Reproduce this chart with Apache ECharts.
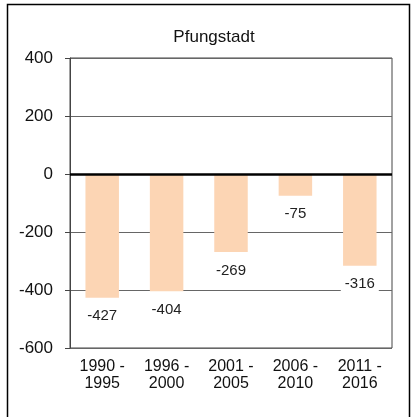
<!DOCTYPE html>
<html>
<head>
<meta charset="utf-8">
<script src="https://cdn.jsdelivr.net/npm/echarts@6/dist/echarts.min.js"></script>
<style>
  html, body { margin: 0; padding: 0; background: #fff; }
  #main { width: 412px; height: 417px; }
</style>
</head>
<body>
<div id="main"></div>
<script>
var title = 'Pfungstadt';
var categories = ['1990 -\n1995', '1996 -\n2000', '2001 -\n2005', '2006 -\n2010', '2011 -\n2016'];
var values = [-427, -404, -269, -75, -316];
var yTicks = [-600, -400, -200, 0, 200, 400];

var chart = echarts.init(document.getElementById('main'));
var font = 'Liberation Sans, Arial, sans-serif';

var option = {
    animation: false,
    backgroundColor: '#fff',
    title: {
        text: title,
        left: 209,
        top: 24,
        textAlign: 'center',
        textStyle: { fontFamily: font, fontSize: 17, fontWeight: 'normal', color: '#111' }
    },
    // outer frame
    graphic: [{
        type: 'rect',
        shape: { x: 7.5, y: 4.5, width: 402, height: 440 },
        style: { fill: 'none', stroke: '#000', lineWidth: 1.5 },
        silent: true
    }],
    grid: {
        left: 70, right: 20, top: 58, bottom: 69,
        show: true,
        borderColor: '#444',
        borderWidth: 1
    },
    xAxis: {
        type: 'category',
        data: categories,
        axisLine: { show: false },
        axisTick: { show: false },
        axisLabel: {
            margin: 10,
            fontFamily: font,
            fontSize: 16,
            lineHeight: 17,
            color: '#111'
        }
    },
    yAxis: {
        type: 'value',
        min: yTicks[0],
        max: yTicks[yTicks.length - 1],
        interval: 200,
        axisLine: { show: true, lineStyle: { color: '#444' } },
        axisTick: { show: true, length: 5, lineStyle: { color: '#444' } },
        splitLine: { show: true, lineStyle: { color: '#666', width: 1 } },
        axisLabel: {
            margin: 17,
            fontFamily: font,
            fontSize: 17,
            color: '#111'
        }
    },
    series: [{
        type: 'bar',
        data: values,
        barWidth: '52%',
        itemStyle: { color: '#fcd5b4' },
        label: {
            show: true,
            position: 'bottom',
            distance: 11,
            fontFamily: font,
            fontSize: 15,
            color: '#222',
            backgroundColor: '#fff',
            padding: [0, 4]
        },
        markLine: {
            silent: true,
            symbol: 'none',
            label: { show: false },
            lineStyle: { color: '#000', width: 2.5, type: 'solid' },
            data: [{ yAxis: 0 }]
        }
    }]
};
chart.setOption(option);
</script>
</body>
</html>
